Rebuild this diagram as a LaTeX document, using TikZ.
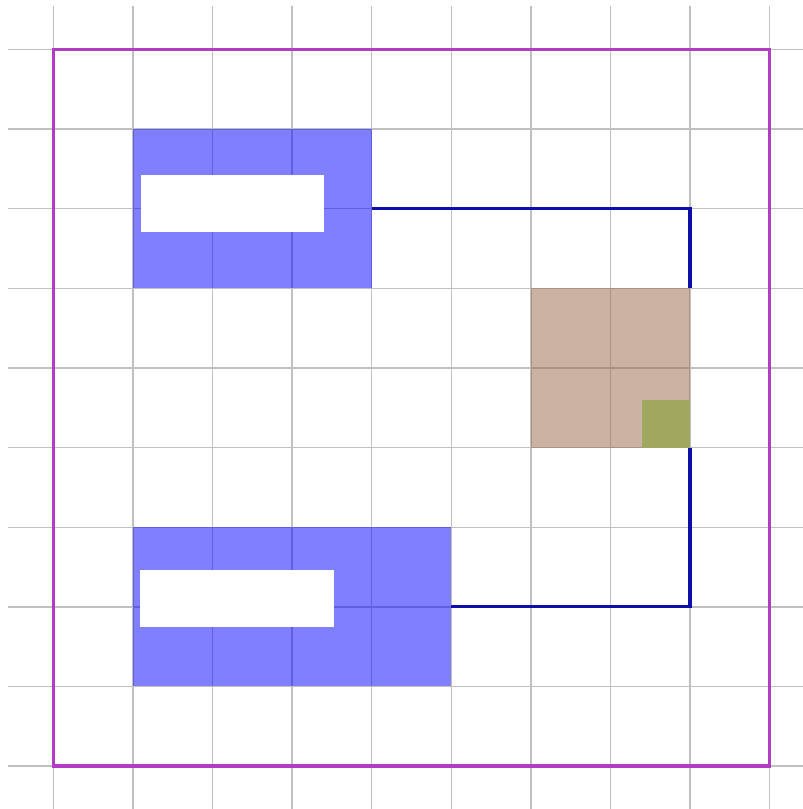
\documentclass[tikz,border=0pt]{standalone}
\definecolor{gridgray}{RGB}{192,192,192}
\definecolor{frame}{RGB}{178,60,196}
\definecolor{wire}{RGB}{14,14,170}
\definecolor{tan}{RGB}{151,101,69}
\definecolor{olive2}{RGB}{160,168,96}
\tikzset{
  gridline/.style={draw=gridgray,line width=0.5pt},
  bluebox/.style={fill=blue,fill opacity=0.5,inner sep=0pt,outer sep=0pt,draw=none},
  tanbox/.style={fill=tan,fill opacity=0.5,inner sep=0pt,outer sep=0pt,draw=none},
  labelbox/.style={fill=white,inner sep=0pt,outer sep=0pt,minimum height=0.71cm},
  marker/.style={fill=olive2,inner sep=0pt,outer sep=0pt,minimum width=0.6cm,minimum height=0.6cm},
  wireline/.style={draw=wire,line width=1.2pt},
  frameline/.style={draw=frame,line width=1.1pt}
}
\begin{document}
\begin{tikzpicture}
\useasboundingbox (-0.67,-0.54) rectangle (9.406,9.623);
\draw[gridline] (-0.57,-0.6) grid (9.6,9.545);
\node[bluebox,minimum width=3cm,minimum height=2cm] (a) at (2.5,7) {};
\node[bluebox,minimum width=4cm,minimum height=2cm] (b) at (3,2) {};
\node[tanbox,minimum width=2cm,minimum height=2cm] (c) at (7,5) {};
\node[marker] (g) at (7.7,4.3) {};
\node[labelbox,minimum width=2.3cm] (la) at (2.255,7.065) {};
\node[labelbox,minimum width=2.44cm] (lb) at (2.31,2.105) {};
\node[frameline,inner sep=0pt,outer sep=0pt,minimum width=9cm,minimum height=9cm] (f) at (4.5,4.5) {};
\draw[wireline] (a.east) -| (c.north east);
\draw[wireline] (c.south east) |- (b.east);
\end{tikzpicture}
\end{document}
